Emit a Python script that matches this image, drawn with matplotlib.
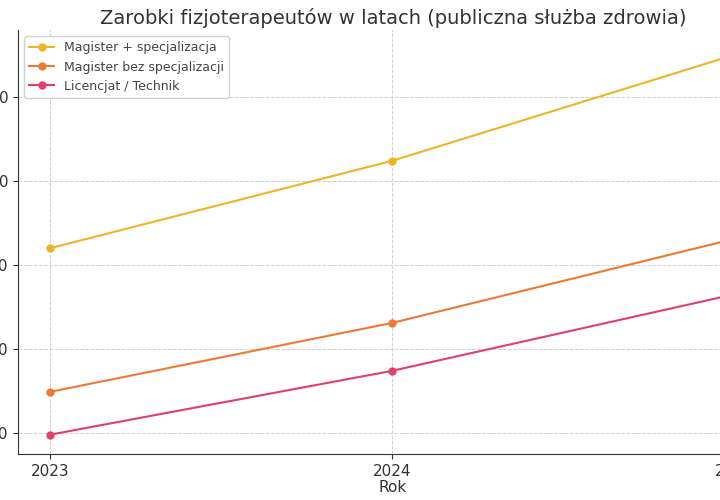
import matplotlib.pyplot as plt

years = [2023, 2024, 2025]
mag_spec = [7200, 8240, 9500]
mag_bez = [5490, 6310, 7310]
licencjat = [4980, 5740, 6650]

fig = plt.figure(figsize=(7.2, 5.0), dpi=100)
# reference is a crop: axes extend past the right edge and the tick labels past the left
ax = fig.add_axes([18 / 720, 46 / 500, 750 / 720, 424 / 500])

ax.plot(years, mag_spec, marker="o", markersize=5, color="#f0b323", label="Magister + specjalizacja")
ax.plot(years, mag_bez, marker="o", markersize=5, color="#eb7a34", label="Magister bez specjalizacji")
ax.plot(years, licencjat, marker="o", markersize=5, color="#e0406a", label="Licencjat / Technik")

ax.set_xlim(2022.906, 2025.1)
ax.set_ylim(4750, 9798)
ax.set_xticks(years)
ax.set_yticks([5000, 6000, 7000, 8000, 9000])
ax.tick_params(labelsize=11, colors="#333333")
ax.grid(True, linestyle="--", color="#d0d0d0", linewidth=0.7)
ax.spines["top"].set_visible(False)
ax.spines["right"].set_visible(False)
ax.spines["left"].set_color("#333333")
ax.spines["bottom"].set_color("#333333")

ax.set_title("Zarobki fizjoterapeutów w latach (publiczna służba zdrowia)", fontsize=14, color="#333333", pad=4)
ax.set_xlabel("Rok", fontsize=11, color="#333333", labelpad=1)
ax.legend(loc="upper left", fontsize=9, framealpha=0.9, labelcolor="#444444")

fig.savefig("out.png", dpi=100)
